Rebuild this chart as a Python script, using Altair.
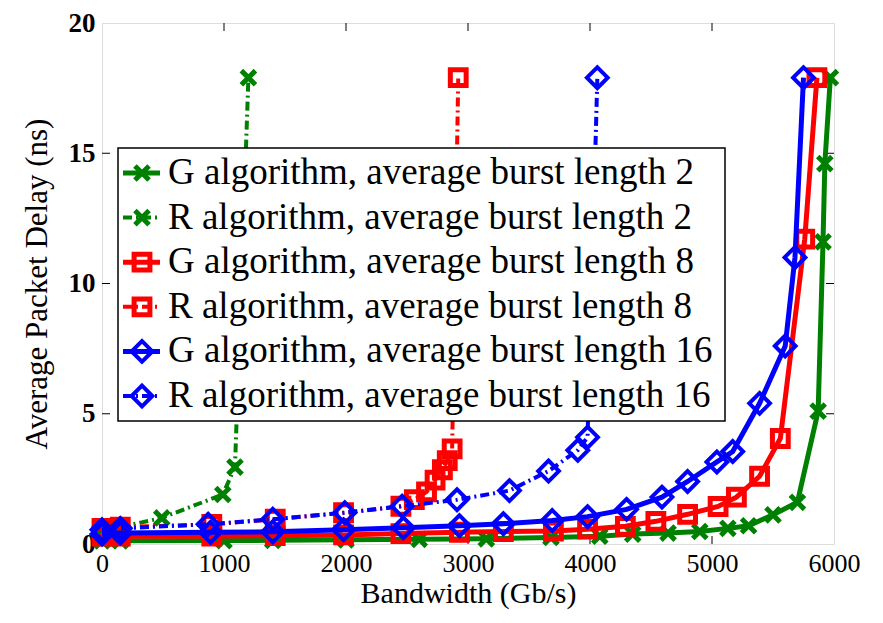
import altair as alt
import pandas as pd

# ---------------- data ----------------
bw_g2 = [0, 150, 1000, 1400, 2000, 2600, 3150, 3680, 4080, 4350, 4640, 4900, 5130, 5300, 5500, 5700, 5870, 5910, 5925, 5970]
dl_g2 = [0.12, 0.12, 0.13, 0.14, 0.16, 0.18, 0.2, 0.25, 0.3, 0.38, 0.42, 0.48, 0.6, 0.7, 1.12, 1.6, 5.1, 11.6, 14.6, 17.9]

bw_r2 = [0, 150, 490, 990, 1090, 1200]
dl_r2 = [0.55, 0.65, 1.0, 1.9, 2.95, 17.9]

bw_g8 = [0, 150, 900, 1420, 1980, 2450, 2930, 3290, 3700, 3980, 4290, 4540, 4800, 5050, 5200, 5390, 5560, 5760, 5860]
dl_g8 = [0.3, 0.3, 0.3, 0.32, 0.35, 0.4, 0.45, 0.48, 0.5, 0.57, 0.68, 0.87, 1.14, 1.44, 1.8, 2.6, 4.05, 11.7, 17.9]

bw_r8 = [0, 150, 900, 1420, 1980, 2450, 2560, 2660, 2730, 2790, 2830, 2870, 2920]
dl_r8 = [0.6, 0.65, 0.75, 0.95, 1.2, 1.45, 1.7, 2.0, 2.45, 2.85, 3.2, 3.65, 17.9]

bw_g16 = [0, 150, 890, 1400, 1980, 2470, 2930, 3290, 3690, 3980, 4300, 4590, 4800, 5040, 5170, 5390, 5600, 5680, 5750]
dl_g16 = [0.38, 0.42, 0.45, 0.47, 0.55, 0.62, 0.7, 0.78, 0.9, 1.05, 1.33, 1.8, 2.4, 3.15, 3.55, 5.4, 7.6, 11.0, 17.9]

bw_r16 = [0, 150, 870, 1400, 1990, 2460, 2910, 3340, 3660, 3900, 3980, 4060]
dl_r16 = [0.55, 0.6, 0.76, 0.95, 1.2, 1.45, 1.7, 2.05, 2.8, 3.6, 4.1, 17.9]

labels = [
    "G algorithm, average burst length 2",
    "R algorithm, average burst length 2",
    "G algorithm, average burst length 8",
    "R algorithm, average burst length 8",
    "G algorithm, average burst length 16",
    "R algorithm, average burst length 16",
]
x_ticks = [0, 1000, 2000, 3000, 4000, 5000, 6000]
y_ticks = [0, 5, 10, 15, 20]

GREEN, RED, BLUE = "#008000", "#FF0000", "#0000FF"
X_PATH = "M-1,-1L1,1M-1,1L1,-1"
DASHDOT = [9, 4, 2, 4]

W, H = 732, 521
FONT = "'Liberation Serif', 'Times New Roman', Times, serif"

xs = alt.Scale(domain=[0, 6000], nice=False, zero=False)
ys = alt.Scale(domain=[0, 20], nice=False)

series = [
    (bw_g2, dl_g2, GREEN, None, X_PATH, 200, 5),
    (bw_r2, dl_r2, GREEN, DASHDOT, X_PATH, 200, 5),
    (bw_g8, dl_g8, RED, None, "square", 250, 5),
    (bw_r8, dl_r8, RED, DASHDOT, "square", 250, 5),
    (bw_g16, dl_g16, BLUE, None, "diamond", 430, 4),
    (bw_r16, dl_r16, BLUE, DASHDOT, "diamond", 430, 4),
]

layers = []
base_df = pd.DataFrame({"bw": [0, 6000], "dl": [0, 20]})
axes = alt.Chart(base_df).mark_point(opacity=0).encode(
    x=alt.X("bw:Q", scale=xs, title="Bandwidth (Gb/s)",
            axis=alt.Axis(values=x_ticks, format="d", labelFontSize=26, labelFont=FONT,
                          labelPadding=6, labelFlush=False, titleFontSize=30, titleFont=FONT,
                          titleFontWeight="normal", titlePadding=2, ticks=False, domain=False,
                          grid=False, labelColor="black", titleColor="black")),
    y=alt.Y("dl:Q", scale=ys, title="Average Packet Delay (ns)",
            axis=alt.Axis(values=y_ticks, labelFontSize=27, labelFont=FONT, labelFontWeight="bold",
                          labelPadding=7, labelFlush=False, titleFontSize=31, titleFont=FONT,
                          titleFontWeight="normal", titlePadding=15, ticks=False, domain=False,
                          grid=False, labelColor="black", titleColor="black")),
)
layers.append(axes)

# inward ticks on all four sides
xt = pd.DataFrame({"t": x_ticks[1:-1]})
yt = pd.DataFrame({"t": y_ticks[1:-1]})
TL = 8
layers.append(alt.Chart(xt).mark_rule(color="black", strokeWidth=1).encode(
    x=alt.X("t:Q", scale=xs), y=alt.value(H), y2=alt.value(H - TL)))
layers.append(alt.Chart(xt).mark_rule(color="black", strokeWidth=1).encode(
    x=alt.X("t:Q", scale=xs), y=alt.value(0), y2=alt.value(TL)))
layers.append(alt.Chart(yt).mark_rule(color="black", strokeWidth=1).encode(
    y=alt.Y("t:Q", scale=ys), x=alt.value(0), x2=alt.value(TL)))
layers.append(alt.Chart(yt).mark_rule(color="black", strokeWidth=1).encode(
    y=alt.Y("t:Q", scale=ys), x=alt.value(W), x2=alt.value(W - TL)))

for bw, dl, col, dash, shape, size, sw in series:
    df = pd.DataFrame({"bw": bw, "dl": dl})
    lkw = dict(color=col, strokeWidth=5 if dash is None else 4)
    if dash is not None:
        lkw["strokeDash"] = dash
    layers.append(alt.Chart(df).mark_line(**lkw).encode(
        x=alt.X("bw:Q", scale=xs), y=alt.Y("dl:Q", scale=ys)))
    layers.append(alt.Chart(df).mark_point(shape=shape, filled=False, color=col, size=size,
                                           strokeWidth=sw, opacity=1).encode(
        x=alt.X("bw:Q", scale=xs), y=alt.Y("dl:Q", scale=ys)))

# legend (decoration)
one = pd.DataFrame({"a": [0]})
LX0, LX1, LY0, LY1 = 16, 623, 125, 398
layers.append(alt.Chart(one).mark_rect(fill="white", stroke="black", strokeWidth=1.5).encode(
    x=alt.value(LX0), x2=alt.value(LX1), y=alt.value(LY0), y2=alt.value(LY1)))
row_y0, row_dy = 150, 44.6
for i, (lab, s) in enumerate(zip(labels, series)):
    _, _, col, dash, shape, size, sw = s
    yr = row_y0 + i * row_dy
    rkw = dict(color=col, strokeWidth=5 if dash is None else 4)
    if dash is not None:
        rkw["strokeDash"] = DASHDOT
    layers.append(alt.Chart(one).mark_rule(**rkw).encode(
        x=alt.value(21), x2=alt.value(58), y=alt.value(yr)))
    layers.append(alt.Chart(one).mark_point(shape=shape, filled=False, color=col, size=size,
                                            strokeWidth=sw, opacity=1).encode(
        x=alt.value(40), y=alt.value(yr)))
    layers.append(alt.Chart(one).mark_text(align="left", baseline="middle", fontSize=37,
                                           font=FONT, color="black").encode(
        x=alt.value(66), y=alt.value(yr), text=alt.value(lab)))

chart = alt.layer(*layers).properties(
    width=W, height=H,
    autosize=alt.AutoSizeParams(type="none"),
    padding={"left": 94, "top": 15, "right": 40, "bottom": 71},
).configure_view(stroke="black", strokeWidth=1.5).configure(background="white")

chart.save("out.html", embed_options={"renderer": "svg", "actions": False})
